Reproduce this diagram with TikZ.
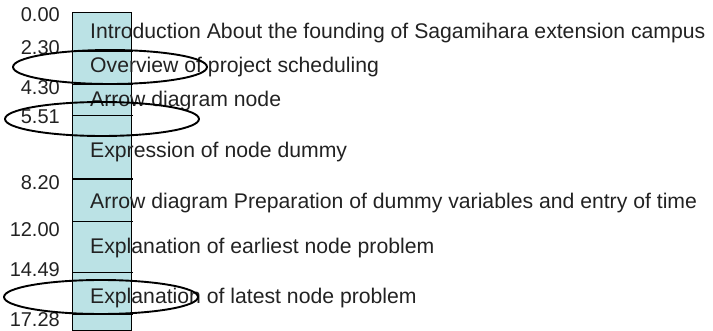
\documentclass[tikz,border=0pt]{standalone}
\usepackage{fontspec}
\setmainfont{Liberation Sans}
\usepackage{xcolor}
\usetikzlibrary{shapes.geometric}
\definecolor{ink}{HTML}{222222}
\definecolor{barfill}{HTML}{BBE2E5}
\tikzset{
  topic/.style={font=\fontsize{21.2}{23}\selectfont, text=ink, anchor=west, inner sep=0pt},
  mark label/.style={font=\fontsize{20}{22}\selectfont, text=ink, anchor=east, inner sep=0pt},
  tick/.style={draw=black, line width=1pt},
  ring/.style={ellipse, draw=black, line width=1.9pt, minimum width=194pt, minimum height=34pt, inner sep=0pt}
}

\begin{document}
\begin{tikzpicture}[x=1pt,y=1pt]
\useasboundingbox (0,0) rectangle (713,330);

\node[draw=black, line width=1pt, fill=barfill, anchor=south west, minimum width=59pt, minimum height=318pt, inner sep=0pt] (bar) at (72,-1) {};

\draw[tick] (72,278) -- (133,278);
\draw[tick] (72,245) -- (133,245);
\draw[tick] (72,214) -- (133,214);
\draw[tick] (72,151) -- (133,151);
\draw[tick] (72,109) -- (133,109);
\draw[tick] (72,58) -- (133,58);
\draw[tick] (72,16) -- (133,16);

\node[mark label] (t0) at (60,315) {0.00};
\node[mark label] (t1) at (60,282) {2.30};
\node[mark label] (t2) at (60,242) {4.30};
\node[mark label] (t3) at (60,213) {5.51};
\node[mark label] (t4) at (60,147) {8.20};
\node[mark label] (t5) at (60,100) {12.00};
\node[mark label] (t6) at (60,60) {14.49};
\node[mark label] (t7) at (60,10) {17.28};

\node[topic] (intro) at (90,297) {Introduction About the founding of Sagamihara extension campus};
\node[topic] (overview) at (90,263) {Overview of project scheduling};
\node[topic] (node) at (90,229) {Arrow diagram node};
\node[topic] (dummy) at (90,178) {Expression of node dummy};
\node[topic] (prep) at (90,127) {Arrow diagram Preparation of dummy variables and entry of time};
\node[topic] (earliest) at (90,82) {Explanation of earliest node problem};
\node[topic] (latest) at (90,32) {Explanation of latest node problem};

\node[ring] (ringA) at (110,263) {};
\node[ring] (ringB) at (102,211) {};
\node[ring] (ringC) at (101,33) {};

\end{tikzpicture}
\end{document}
